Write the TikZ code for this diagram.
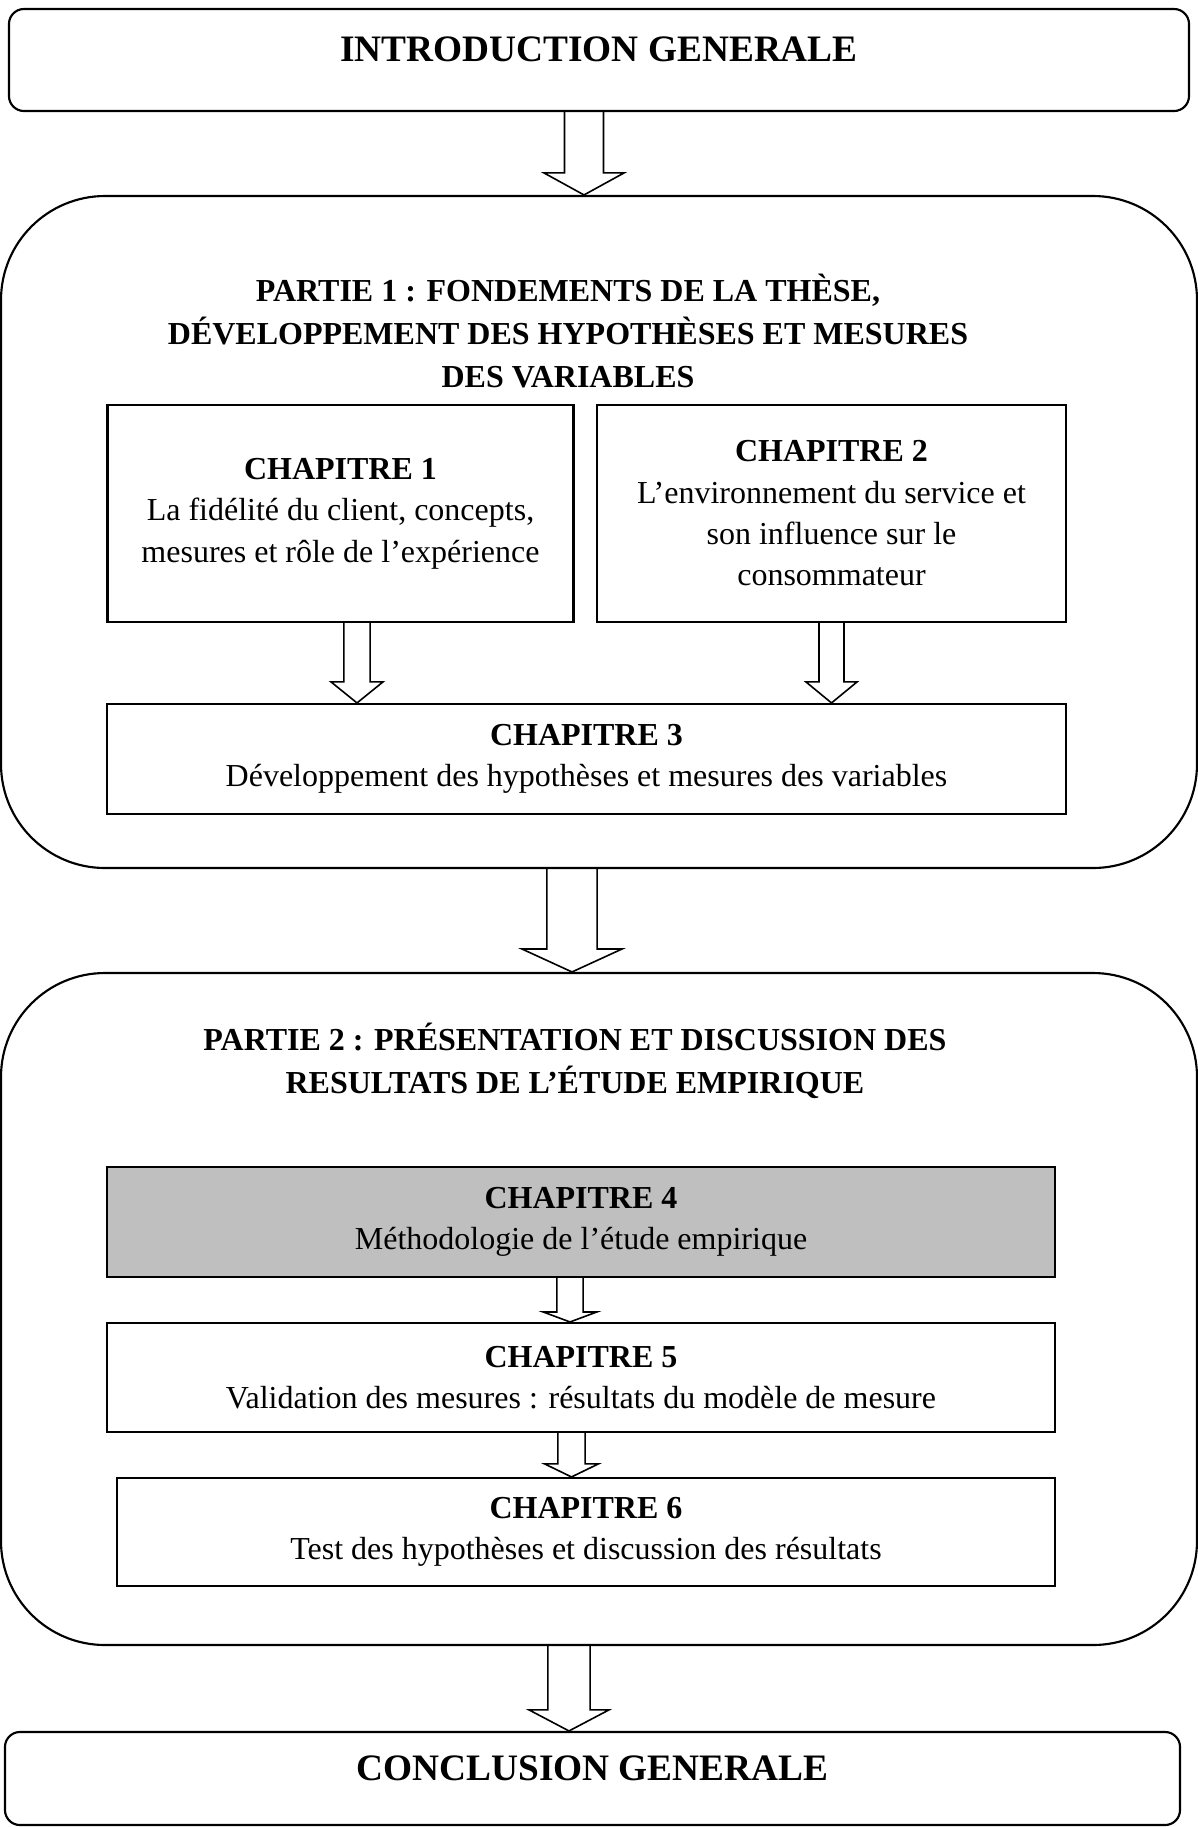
\documentclass[tikz,border=0pt]{standalone}
\usepackage{fontspec}
\setmainfont{Liberation Serif}
\usetikzlibrary{calc}
\tikzset{
  boxsize/.style 2 args={minimum width=#1*0.375pt,minimum height=#2*0.375pt},
  endbox/.style={draw,line width=0.8pt,rounded corners=5.6pt,inner sep=0pt,
                 text depth=8pt,font=\fontsize{14}{17}\selectfont\bfseries},
  partbox/.style={draw,line width=0.8pt,rounded corners=39pt,inner sep=0pt},
  parttitle/.style={align=center,inner sep=0pt,
                    font=\fontsize{12}{16}\selectfont\bfseries},
  chapbox/.style={draw,line width=0.8pt,align=center,inner sep=0pt,
                  font=\fontsize{12}{15.5}\selectfont},
  hollow/.style={line width=0.6pt,line join=miter}
}
\colorlet{chapfill}{gray!50}

\begin{document}
\begin{tikzpicture}[x=0.375pt,y=-0.375pt]
  \useasboundingbox (0,0) rectangle (1198,1827);

  % INTRODUCTION / CONCLUSION
  \node[endbox,boxsize={1180}{102}] (intro) at (599,60) {INTRODUCTION GENERALE};
  \node[endbox,boxsize={1175}{93}] (concl) at (592.5,1778.5) {CONCLUSION GENERALE};

  % PARTIE 1
  \node[partbox,boxsize={1196}{672}] (p1) at (599,532) {};
  \node[parttitle,anchor=base] (p1title) at (568,387)
    {PARTIE 1 : FONDEMENTS DE LA THÈSE,\\DÉVELOPPEMENT DES HYPOTHÈSES ET MESURES\\DES VARIABLES};
  \node[chapbox,boxsize={466}{217}] (c1) at (340.5,513.5)
    {\textbf{CHAPITRE 1}\\La fidélité du client, concepts,\\mesures et rôle de l’expérience};
  \node[chapbox,boxsize={469}{217}] (c2) at (831.5,513.5)
    {\textbf{CHAPITRE 2}\\L’environnement du service et\\son influence sur le\\consommateur};
  \node[chapbox,boxsize={959}{110}] (c3) at (586.5,759)
    {\textbf{CHAPITRE 3}\\Développement des hypothèses et mesures des variables};

  % PARTIE 2
  \node[partbox,boxsize={1196}{672}] (p2) at (599,1309) {};
  \node[parttitle,anchor=base] (p2title) at (575,1093)
    {PARTIE 2 : PRÉSENTATION ET DISCUSSION DES\\RESULTATS DE L’ÉTUDE EMPIRIQUE};
  \node[chapbox,fill=chapfill,boxsize={948}{110}] (c4) at (581,1222)
    {\textbf{CHAPITRE 4}\\Méthodologie de l’étude empirique};
  \node[chapbox,boxsize={948}{109}] (c5) at (581,1377.5)
    {\textbf{CHAPITRE 5}\\Validation des mesures : résultats du modèle de mesure};
  \node[chapbox,boxsize={938}{108}] (c6) at (586,1532)
    {\textbf{CHAPITRE 6}\\Test des hypothèses et discussion des résultats};

  % ARROWS
  \foreach \src/\dx/\dst/\sw/\hw/\hl in {intro/-15/p1/7.3pt/15pt/8.25pt,
      c1/16.5/c3/4.9pt/9.75pt/7.9pt, c2/0/c3/4.7pt/9.6pt/7.9pt,
      p1/-27/p2/9.4pt/18.75pt/8.6pt, c4/-11/c5/4.9pt/10.1pt/3.75pt,
      c5/-9.5/c6/5.1pt/10.1pt/4.9pt, p2/-30/concl/7.9pt/15pt/7.9pt}{
    \draw[hollow] let \p1=($(\src.south)+(\dx,0)$), \p2=(\dst.north) in
      (\x1-\sw,\y1) -- (\x1-\sw,\y2+\hl) -- (\x1-\hw,\y2+\hl) -- (\x1,\y2)
      -- (\x1+\hw,\y2+\hl) -- (\x1+\sw,\y2+\hl) -- (\x1+\sw,\y1);
  }

\end{tikzpicture}
\end{document}
